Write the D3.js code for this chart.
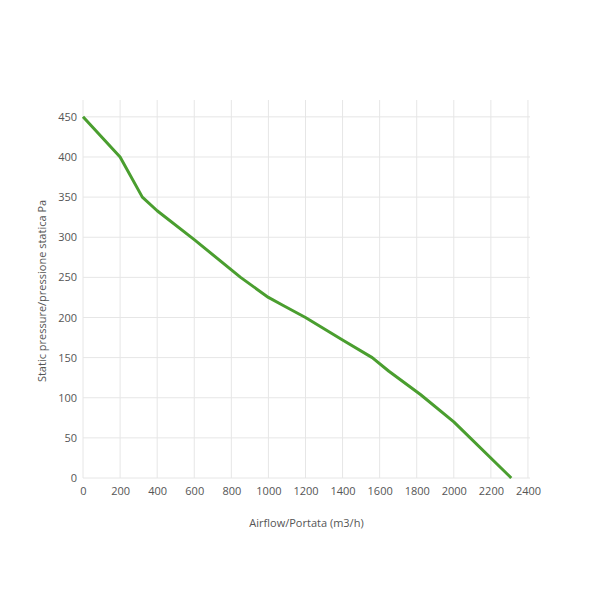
<!DOCTYPE html>
<html>
<head>
<meta charset="utf-8">
<script src="https://cdn.jsdelivr.net/npm/d3@7"></script>
<style>
  body { margin: 0; background: #fff; }
  text { font-family: "Open Sans", sans-serif; fill: #555; }
</style>
</head>
<body>
<svg width="589" height="589"></svg>
<script>
// Curve
const airflow  = [0, 200, 320, 400, 600, 850, 1000, 1080, 1200, 1400, 1560, 1650, 1820, 2000, 2310];
const pressure = [450, 400, 350, 333, 297, 250, 225, 215, 200, 172, 150, 133, 104, 70, 0];
const xTicks = [0, 200, 400, 600, 800, 1000, 1200, 1400, 1600, 1800, 2000, 2200, 2400];
const yTicks = [0, 50, 100, 150, 200, 250, 300, 350, 400, 450];

const margin = {top: 100, right: 59, bottom: 111, left: 83};
const width = 589 - margin.left - margin.right;
const height = 589 - margin.top - margin.bottom;

const x = d3.scaleLinear().domain([0, 2411]).range([0, width]);
const y = d3.scaleLinear().domain([0, 471]).range([height, 0]);

const chart = d3.select('svg').append('g')
  .attr('transform', 'translate(' + margin.left + ',' + margin.top + ')');

// grid
chart.selectAll('.vg').data(xTicks).enter().append('line')
  .attr('x1', d => x(d)).attr('x2', d => x(d))
  .attr('y1', 0).attr('y2', height)
  .attr('stroke', '#e6e6e6').attr('stroke-width', 1);
chart.selectAll('.hg').data(yTicks).enter().append('line')
  .attr('x1', 0).attr('x2', width)
  .attr('y1', d => y(d)).attr('y2', d => y(d))
  .attr('stroke', '#e6e6e6').attr('stroke-width', 1);

// axes (labels only)
const xAxis = d3.axisBottom(x).tickValues(xTicks).tickFormat(d3.format('d')).tickSize(0).tickPadding(9);
const yAxis = d3.axisLeft(y).tickValues(yTicks).tickFormat(d3.format('d')).tickSize(0).tickPadding(6);
const gx = chart.append('g').attr('transform', 'translate(0,' + height + ')').call(xAxis);
const gy = chart.append('g').call(yAxis);
[gx, gy].forEach(g => {
  g.select('.domain').remove();
  g.selectAll('text').style('font-size', '11px').attr('fill', '#555');
});

// line
const pts = airflow.map((a, i) => ({a: a, p: pressure[i]}));
chart.append('path').datum(pts)
  .attr('fill', 'none')
  .attr('stroke', '#4a9e2f')
  .attr('stroke-width', 3)
  .attr('stroke-linejoin', 'round')
  .attr('d', d3.line().x(d => x(d.a)).y(d => y(d.p)));

// titles
chart.append('text').text('Airflow/Portata (m3/h)')
  .attr('x', width / 2).attr('y', height + 49)
  .attr('text-anchor', 'middle').style('font-size', '11px');
chart.append('text').text('Static pressure/pressione statica Pa')
  .attr('transform', 'translate(' + (-37) + ',' + (height / 2 + 2) + ') rotate(-90)')
  .attr('text-anchor', 'middle').style('font-size', '11px');
</script>
</body>
</html>
